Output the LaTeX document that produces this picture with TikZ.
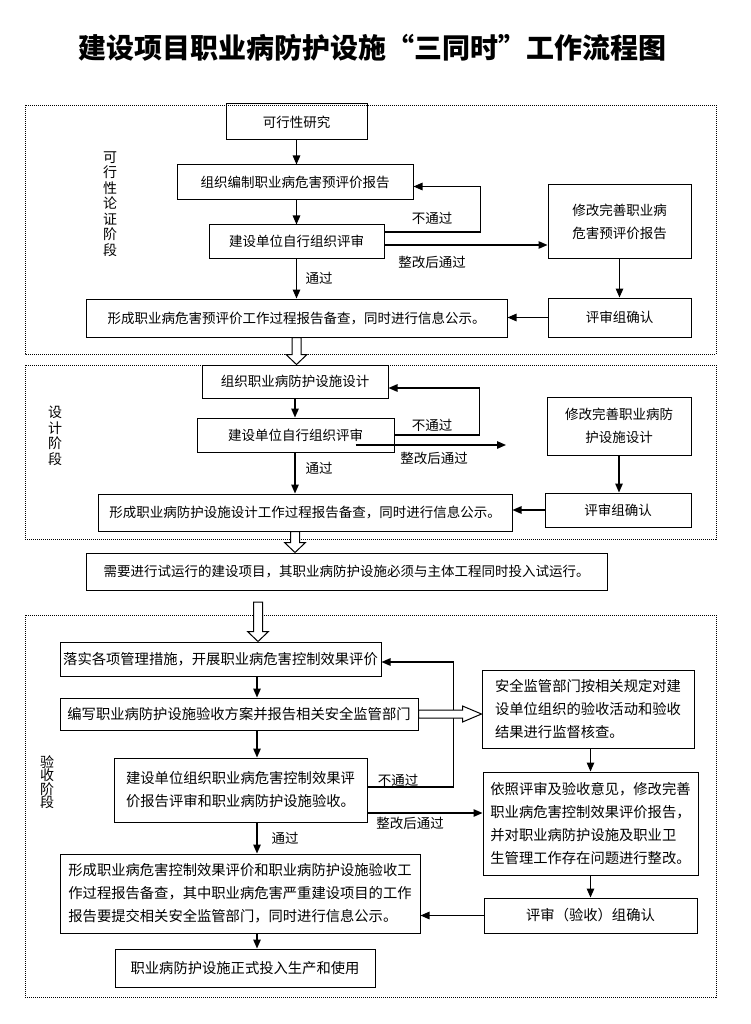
\documentclass[tikz,border=0pt]{standalone}
\usepackage{fontspec}
\setmainfont{Noto Sans CJK SC}
\usepackage{tikz}
\usetikzlibrary{calc,positioning,arrows.meta}

\tikzset{
  box/.style={draw, line width=1pt, inner sep=2pt, align=center,
    font=\fontsize{13.5}{23}\selectfont},
  big/.style={align=left, font=\fontsize{14.3}{23}\selectfont},
  arr/.style={line width=1.3pt, -{Triangle[length=9pt,width=7.5pt]}},
  note/.style={inner sep=0pt, font=\fontsize{13.5}{15}\selectfont},
  stage/.style={inner sep=0pt, align=center, font=\fontsize{14}{15.5}\selectfont},
  stagebox/.style={line width=0.8pt, dash pattern=on 1pt off 1pt},
  hollow/.style={draw, line width=1pt, fill=white, line join=miter},
}
% hollow down arrow: from #1 to tip #2
\newcommand{\hollowv}[2]{%
  \draw[hollow] ($(#1)+(-4.5,0)$) -- ($(#2)+(-4.5,-10)$) -- ($(#2)+(-10.5,-10)$) -- (#2)
    -- ($(#2)+(10.5,-10)$) -- ($(#2)+(4.5,-10)$) -- ($(#1)+(4.5,0)$) -- cycle;}

\begin{document}
\begin{tikzpicture}[x=1pt, y=-1pt]
  \useasboundingbox (0,0) rectangle (751,1024);
  \fill[white] (0,0) rectangle (751,1024);

  \node (title) at (372,48) {\bfseries\fontsize{28}{30}\selectfont 建设项目职业病防护设施“三同时”工作流程图};

  % stages
  \draw[stagebox] (25,105) rectangle (716,354);
  \draw[stagebox] (25,365) rectangle (716,539);
  \draw[stagebox] (25,615) rectangle (716,997);
  \node[stage] (st1) at (110,204) {可\\行\\性\\论\\证\\阶\\段};
  \node[stage] (st2) at (55,436) {设\\计\\阶\\段};
  \node[stage, font=\fontsize{14}{13.5}\selectfont] (st3) at (47,782) {验\\收\\阶\\段};

  % feasibility
  \node[box, minimum width=141pt, minimum height=36pt] (kx) at (296.5,122) {可行性研究};
  \node[box, minimum width=236pt, minimum height=35pt] (bz) at (295,182.5) {组织编制职业病危害预评价报告};
  \node[box, minimum width=175pt, minimum height=33pt] (ps1) at (296.5,241.5) {建设单位自行组织评审};
  \node[box, minimum width=143pt, minimum height=73pt] (xg1) at (619.5,221.5) {修改完善职业病\\危害预评价报告};
  \node[box, minimum width=143pt, minimum height=39pt] (qr1) at (619.5,317.5) {评审组确认};
  \node[box, minimum width=421pt, minimum height=38pt] (xc1) at (296.5,318) {形成职业病危害预评价工作过程报告备查，同时进行信息公示。};

  \draw[arr] (kx.south) -- (kx.south |- bz.north);
  \draw[arr] (kx.south |- bz.south) -- (kx.south |- ps1.north);
  \draw[arr] (ps1.south) -- (ps1.south |- xc1.north);
  \draw[arr] ([yshift=9.5pt]ps1.east) -- ++(96,0) |- ([yshift=-4pt]bz.east);
  \coordinate (p1) at ([yshift=-3.5pt]ps1.east);
  \draw[arr] (p1) -- (p1 -| xg1.west);
  \draw[arr] (xg1) -- (qr1);
  \draw[arr] (qr1.west) -- (qr1.west -| xc1.east);
  \node[note] (nt1) at (432,218) {不通过};
  \node[note] (zg1) at (432,262) {整改后通过};
  \node[note] (tg1) at (319,278) {通过};

  % design
  \node[box, minimum width=186pt, minimum height=33pt] (sj2) at (295,381.5) {组织职业病防护设施设计};
  \node[box, minimum width=197pt, minimum height=34pt] (ps2) at (295.5,435) {建设单位自行组织评审};
  \node[box, minimum width=144pt, minimum height=58pt] (xg2) at (619,426) {修改完善职业病防\\护设施设计};
  \node[box, minimum width=146pt, minimum height=34pt] (qr2) at (618,510) {评审组确认};
  \node[box, minimum width=414pt, minimum height=37pt] (xc2) at (305,512.5) {形成职业病防护设施设计工作过程报告备查，同时进行信息公示。};

  \draw[arr] (sj2.south) -- (sj2.south |- ps2.north);
  \draw[arr] (sj2.south |- ps2.south) -- (sj2.south |- xc2.north);
  \draw[arr] (ps2.east) -- ++(85,0) |- ([yshift=-6.5pt]sj2.east);
  \coordinate (e2) at (506,445);
  \draw[arr] ([xshift=-39pt,yshift=-10pt]ps2.east) -- (e2);
  \draw[arr] (xg2.south) -- (xg2.south |- qr2.north);
  \draw[arr] (qr2.west) -- (qr2.west -| xc2.east);
  \node[note] (nt2) at (432,425) {不通过};
  \node[note] (zg2) at (434,458) {整改后通过};
  \node[note] (tg2) at (319,468) {通过};

  \hollowv{xc1.south}{xc1.south |- sj2.north}

  % trial run
  \node[box, minimum width=521pt, minimum height=37pt] (sx) at (346.5,571.5) {需要进行试运行的建设项目，其职业病防护设施必须与主体工程同时投入试运行。};
  \hollowv{xc2.south -| sj2.south}{sx.north -| sj2.south}

  % acceptance
  \coordinate (col3) at (257,0);
  \node[box, big, minimum width=321pt, minimum height=34pt] (ls3) at (220.5,659) {落实各项管理措施，开展职业病危害控制效果评价};
  \node[box, big, minimum width=358pt, minimum height=32pt] (bx3) at (239,714) {编写职业病防护设施验收方案并报告相关安全监管部门};
  \node[box, big, minimum width=212pt, minimum height=78pt] (aq3) at (588,709) {安全监管部门按相关规定对建\\设单位组织的验收活动和验收\\结果进行监督核查。};
  \node[box, big, minimum width=253pt, minimum height=64pt] (ps3) at (240.5,790) {建设单位组织职业病危害控制效果评\\价报告评审和职业病防护设施验收。};
  \node[box, big, minimum width=215pt, minimum height=103pt] (yz3) at (590.5,823.5) {依照评审及验收意见，修改完善\\职业病危害控制效果评价报告，\\并对职业病防护设施及职业卫\\生管理工作存在问题进行整改。};
  \node[box, big, minimum width=213pt, minimum height=35pt] (qr3) at (590.5,915.5) {评审（验收）组确认};
  \node[box, big, minimum width=360pt, minimum height=79pt] (xc3) at (240,893.5) {形成职业病危害控制效果评价和职业病防护设施验收工\\作过程报告备查，其中职业病危害严重建设项目的工作\\报告要提交相关安全监管部门，同时进行信息公示。};
  \node[box, big, minimum width=260pt, minimum height=38pt] (tr3) at (245,968) {职业病防护设施正式投入生产和使用};

  \coordinate (h3) at (258,602);
  \hollowv{h3}{h3 |- ls3.north}
  \draw[arr] (ls3.south -| col3) -- (bx3.north -| col3);
  \draw[arr] (bx3.south -| col3) -- (ps3.north -| col3);
  \draw[arr] (ps3.south -| col3) -- (xc3.north -| col3);
  \draw[arr] (xc3.south -| col3) -- (tr3.north -| col3);
  \draw[arr] ([yshift=3pt]ps3.east) -- ++(86,0) |- ([yshift=-3pt]ls3.east);
  \coordinate (p3) at ([yshift=-23pt]ps3.east);
  \draw[arr] (p3) -- (p3 -| yz3.west);
  \draw[arr] (yz3.north |- aq3.south) -- (yz3.north);
  \draw[arr] (yz3) -- (qr3);
  \draw[arr] (qr3.west) -- (qr3.west -| xc3.east);
  \draw[hollow] ($(bx3.east)+(0,-4)$) -- ($(bx3.east -| aq3.west)+(-19,-4)$)
    -- ($(bx3.east -| aq3.west)+(-19,-8)$) -- (bx3.east -| aq3.west)
    -- ($(bx3.east -| aq3.west)+(-19,8)$) -- ($(bx3.east -| aq3.west)+(-19,4)$)
    -- ($(bx3.east)+(0,4)$) -- cycle;
  \node[note] (nt3) at (398,780) {不通过};
  \node[note] (zg3) at (410,823) {整改后通过};
  \node[note] (tg3) at (285,838) {通过};
\end{tikzpicture}
\end{document}
